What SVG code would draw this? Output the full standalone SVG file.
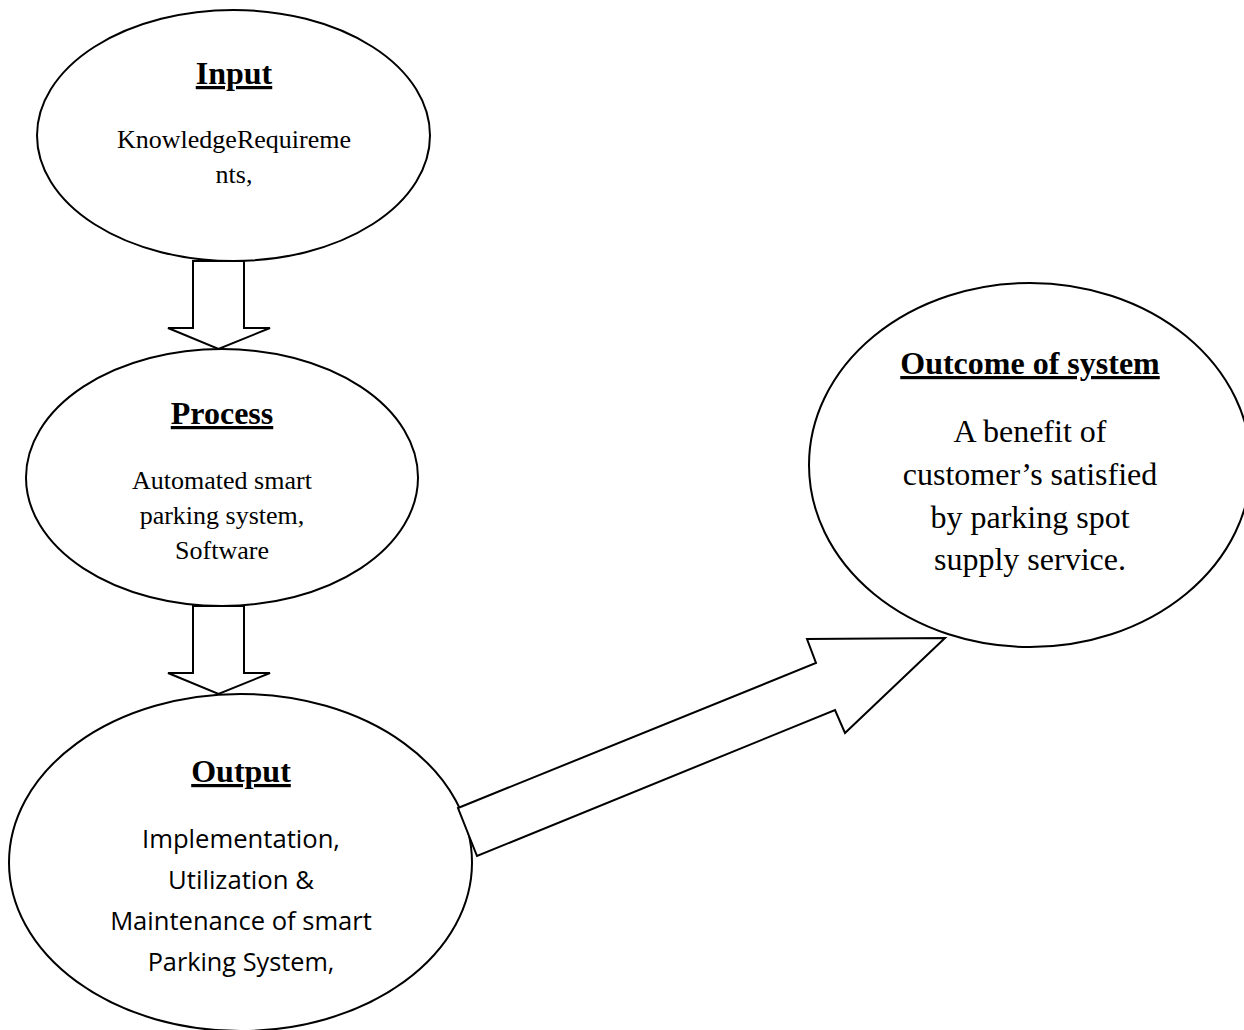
<svg xmlns="http://www.w3.org/2000/svg" width="1244" height="1030" viewBox="0 0 1244 1030">
<style>
.node{fill:#fff;stroke:#000;stroke-width:2}
.arrow{fill:#fff;stroke:#000;stroke-width:2;stroke-linejoin:miter}
.title{font-family:"Liberation Serif","Times New Roman",serif;font-weight:bold;font-size:32px;text-anchor:middle;fill:#000;text-decoration:underline}
.body{font-family:"Liberation Serif","Times New Roman",serif;font-size:26px;text-anchor:middle;fill:#000}
.big{font-family:"Liberation Serif","Times New Roman",serif;font-size:32px;text-anchor:middle;fill:#000}
.sans{font-family:"Open Sans","Liberation Sans",sans-serif;font-size:25px;text-anchor:middle;fill:#000}
</style>
<rect width="1244" height="1030" fill="#fff"/>
<g id="input">
<ellipse class="node" cx="233.5" cy="135.5" rx="196.5" ry="125.5"/>
<text class="title" x="234" y="84">Input</text>
<text class="body" x="234" y="148">KnowledgeRequireme</text>
<text class="body" x="234" y="183">nts,</text>
</g>
<g id="process">
<ellipse class="node" cx="222" cy="477.5" rx="196" ry="128.5"/>
<text class="title" x="222" y="424">Process</text>
<text class="body" x="222" y="488.5">Automated smart</text>
<text class="body" x="222" y="523.5">parking system,</text>
<text class="body" x="222" y="558.5">Software</text>
</g>
<g id="output">
<ellipse class="node" cx="240.5" cy="862.5" rx="231.5" ry="168.5"/>
<text class="title" x="241" y="782">Output</text>
<text class="sans" x="241" y="848" textLength="198" lengthAdjust="spacingAndGlyphs">Implementation,</text>
<text class="sans" x="241" y="888.5" textLength="146" lengthAdjust="spacingAndGlyphs">Utilization &amp;</text>
<text class="sans" x="241" y="929.5" textLength="261.7" lengthAdjust="spacingAndGlyphs">Maintenance of smart</text>
<text class="sans" x="241" y="970.5" textLength="186.7" lengthAdjust="spacingAndGlyphs">Parking System,</text>
</g>
<g id="outcome">
<ellipse class="node" cx="1030" cy="465" rx="221" ry="182"/>
<text class="title" x="1030" y="374">Outcome of system</text>
<text class="big" x="1030" y="442">A benefit of</text>
<text class="big" x="1030" y="485">customer’s satisfied</text>
<text class="big" x="1030" y="527.5">by parking spot</text>
<text class="big" x="1030" y="570">supply service.</text>
</g>
<g id="connectors">
<polygon class="arrow" points="193,261 244,261 244,328 270,328 218.5,349 168,328 193,328"/>
<polygon class="arrow" points="193,606 244,606 244,673 270,673 218.5,694 168,673 193,673"/>
<polygon class="arrow" points="458,808 816,663 807,639 945,638 845,733 835,710 477,856"/>
</g>
</svg>
